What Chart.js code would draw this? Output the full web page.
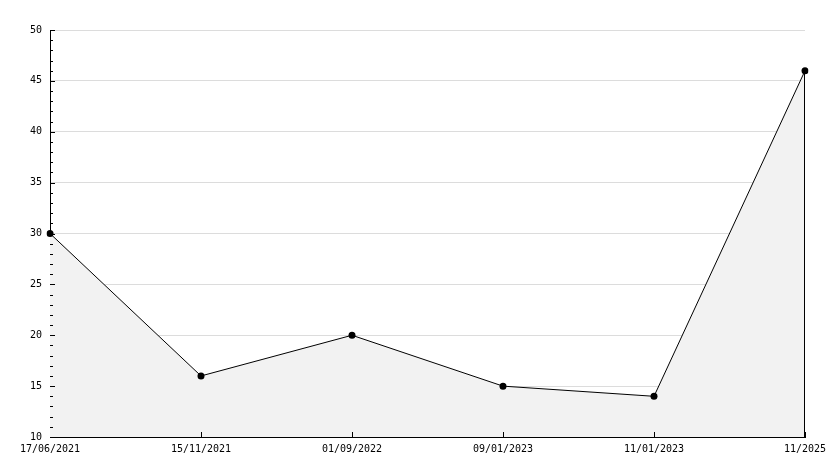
<!DOCTYPE html>
<html>
<head>
<meta charset="utf-8">
<script src="https://cdn.jsdelivr.net/npm/chart.js@4"></script>
<style>
  html, body { margin: 0; padding: 0; background: #fff; overflow: hidden; }
  #wrap { width: 834px; height: 468px; }
</style>
</head>
<body>
<div id="wrap"><canvas id="chart" width="834" height="468"></canvas></div>
<script>
// === data ===
const dates = ["17/06/2021", "15/11/2021", "01/09/2022", "09/01/2023", "11/01/2023", "11/2025"];
const values = [30, 16, 20, 15, 14, 46];
const yMin = 10;
const yMax = 50;
const yMajorStep = 5;

// inward tick marks + closing edge of the filled area
const axisMarks = {
  id: "axisMarks",
  afterDraw(chart) {
    const { ctx, chartArea, scales } = chart;
    const x = scales.x, y = scales.y;
    const left = Math.round(chartArea.left);
    const bottom = Math.round(chartArea.bottom);
    ctx.save();
    ctx.strokeStyle = "#000";
    ctx.lineWidth = 1;
    ctx.beginPath();
    for (let v = yMin; v <= yMax; v++) {
      const py = Math.round(y.getPixelForValue(v)) + 0.5;
      const len = v % yMajorStep === 0 ? 5 : 3;
      ctx.moveTo(left, py);
      ctx.lineTo(left + len, py);
    }
    dates.forEach((d, i) => {
      if (i === 0) return;
      const px = Math.round(x.getPixelForValue(i)) + 0.5;
      ctx.moveTo(px, bottom);
      ctx.lineTo(px, bottom - 5);
    });
    const last = chart.getDatasetMeta(0).data[values.length - 1];
    const lx = Math.round(last.x) - 0.5;
    ctx.moveTo(lx, last.y);
    ctx.lineTo(lx, bottom);
    ctx.stroke();
    ctx.restore();
  }
};

const font = { family: "'DejaVu Sans Mono', monospace", size: 10 };

new Chart(document.getElementById("chart"), {
  type: "line",
  data: {
    labels: dates,
    datasets: [{
      data: values,
      borderColor: "#000",
      borderWidth: 1,
      backgroundColor: "#f2f2f2",
      fill: "start",
      tension: 0,
      pointRadius: 3.5,
      pointHoverRadius: 3.5,
      pointBackgroundColor: "#000",
      pointBorderColor: "#000",
      pointBorderWidth: 0
    }]
  },
  options: {
    responsive: false,
    animation: false,
    layout: { padding: { top: 30, right: 29, left: 0, bottom: 0 } },
    plugins: { legend: { display: false }, tooltip: { enabled: false } },
    scales: {
      x: {
        offset: false,
        grid: { display: false, drawTicks: false },
        border: { display: true, color: "#000", width: 1 },
        ticks: { color: "#000", font, padding: 6, maxRotation: 0, autoSkip: false },
        afterFit: (s) => { s.height = 31; }
      },
      y: {
        min: yMin,
        max: yMax,
        grid: {
          drawTicks: false,
          color: (c) => (c.tick && c.tick.value % yMajorStep === 0 ? "#dcdcdc" : "rgba(0,0,0,0)")
        },
        border: { display: true, color: "#000", width: 1 },
        ticks: {
          stepSize: 1,
          autoSkip: false,
          color: "#000",
          font,
          padding: 8,
          callback: (v) => (v % yMajorStep === 0 ? v : "")
        },
        afterFit: (s) => { s.width = 50; }
      }
    }
  },
  plugins: [axisMarks]
});
</script>
</body>
</html>
